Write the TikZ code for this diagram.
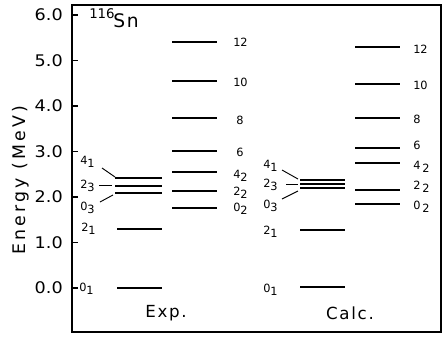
\documentclass[tikz,border=0pt]{standalone}
\usepackage{fontspec}
\usetikzlibrary{calc}
\setmainfont[FakeStretch=1.1]{DejaVu Sans}
\newfontfamily\lvfont{DejaVu Sans}
\newfontfamily\widefont[LetterSpace=18]{DejaVu Sans}
\newfontfamily\capfont[LetterSpace=10]{DejaVu Sans}
\newcommand\lvl[2]{#1\raisebox{-0.45ex}{#2}}
\begin{document}
\begin{tikzpicture}[x=0.75pt,y=-0.75pt,
  level/.style={line width=1.1pt},
  conn/.style={line width=0.7pt},
  frame/.style={line width=1.5pt},
  ticklab/.style={anchor=east,inner sep=0pt,font=\fontsize{12}{14}\selectfont},
  lab/.style={anchor=west,inner sep=0pt,font=\lvfont\fontsize{8.5}{10}\selectfont},
  colname/.style={inner sep=0pt,font=\capfont\fontsize{12.5}{15}\selectfont}]
\useasboundingbox (0,0) rectangle (443,337);

% frame and energy axis
\draw[frame] (72,5) rectangle (441,332);
\foreach \e/\t in {0/0.0,1/1.0,2/2.0,3/3.0,4/4.0,5/5.0,6/6.0}{
  \draw[line width=1pt] (72,{288-45.5*\e}) -- (78,{288-45.5*\e});
  \node[ticklab] (tick\e) at (63,{288-45.5*\e}) {\t};
}
\node[rotate=90,inner sep=0pt,font=\widefont\fontsize{13}{15}\selectfont] (ylab) at (21,180) {Energy (MeV)};

% nucleus
\node[inner sep=0pt,anchor=west,font=\lvfont\fontsize{10}{12}\selectfont] (mass) at (89,14) {116};
\node[inner sep=0pt,anchor=west,font=\capfont\fontsize{14}{16}\selectfont] (elem) at (113,21) {Sn};

% ---------- experiment ----------
\coordinate (xa1) at (117,288); \coordinate (xb1) at (162,288);
\coordinate (xa2) at (117,229); \coordinate (xb2) at (162,229);
\coordinate (xa4) at (115,178); \coordinate (xb4) at (162,178);
\coordinate (xa23) at (115,186); \coordinate (xb23) at (162,186);
\coordinate (xa03) at (115,193); \coordinate (xb03) at (162,193);
\draw[level] (xa1) -- (xb1);
\draw[level,line width=1.4pt] (xa2) -- (xb2);
\draw[level] (xa4) -- (xb4);
\draw[level] (xa23) -- (xb23);
\draw[level] (xa03) -- (xb03);

\node[lab] (x41) at (80,162) {\lvl{4}{1}};
\node[lab] (x23) at (80,186) {\lvl{2}{3}};
\node[lab] (x03) at (80,208) {\lvl{0}{3}};
\node[lab] (x21) at (81,229) {\lvl{2}{1}};
\node[lab] (x01) at (79,289) {\lvl{0}{1}};

\coordinate (xc41) at (102,168);
\coordinate (xc23) at (99,185);
\coordinate (xc03) at (100,202);
\draw[conn] (xc41) -- ($(xa4)+(0,-1)$);
\draw[conn] (xc23) -- ($(xa23)+(-3,-1)$);
\draw[conn] (xc03) -- ($(xa03)+(-2,2)$);

\foreach \n/\y/\t/\lx/\ly in {12/42/12/233/42, 10/81/10/233/82, 8/118/8/236/120, 6/151/6/236/152,
    42/172/{\lvl{4}{2}}/233/176, 22/191/{\lvl{2}{2}}/233/193, 02/208/{\lvl{0}{2}}/233/209}{
  \coordinate (xl\n) at (172,\y); \coordinate (xr\n) at (217,\y);
  \draw[level] (xl\n) -- (xr\n);
  \node[lab] (xn\n) at (\lx,\ly) {\t};
}
\node[colname] (exp) at (166,313) {Exp.};

% ---------- calculation ----------
\coordinate (ca1) at (300,287); \coordinate (cb1) at (345,287);
\coordinate (ca2) at (300,230); \coordinate (cb2) at (345,230);
\coordinate (ca4) at (300,180); \coordinate (cb4) at (345,180);
\coordinate (ca23) at (300,184); \coordinate (cb23) at (345,184);
\coordinate (ca03) at (300,188); \coordinate (cb03) at (345,188);
\draw[level] (ca1) -- (cb1);
\draw[level] (ca2) -- (cb2);
\draw[level] (ca4) -- (cb4);
\draw[level] (ca23) -- (cb23);
\draw[level] (ca03) -- (cb03);

\node[lab] (c41) at (263,166) {\lvl{4}{1}};
\node[lab] (c23) at (263,185) {\lvl{2}{3}};
\node[lab] (c03) at (263,206) {\lvl{0}{3}};
\node[lab] (c21) at (263,232) {\lvl{2}{1}};
\node[lab] (c01) at (263,290) {\lvl{0}{1}};

\coordinate (cc41) at (282,170);
\coordinate (cc23) at (286,184);
\coordinate (cc03) at (282,199);
\draw[conn] (cc41) -- ($(ca4)+(-2,-1)$);
\draw[conn] (cc23) -- ($(ca23)+(-2,0)$);
\draw[conn] (cc03) -- ($(ca03)+(-2,3)$);

\foreach \n/\y/\t/\ly in {12/47/12/49, 10/84/10/85, 8/118/8/119, 6/148/6/145,
    42/163/{\lvl{4}{\,2}}/167, 22/190/{\lvl{2}{\,2}}/187, 02/204/{\lvl{0}{\,2}}/207}{
  \coordinate (cl\n) at (355,\y); \coordinate (cr\n) at (400,\y);
  \draw[level] (cl\n) -- (cr\n);
  \node[lab] (cn\n) at (413,\ly) {\t};
}
\node[colname] (calc) at (350,313) {Calc.};
\end{tikzpicture}
\end{document}
